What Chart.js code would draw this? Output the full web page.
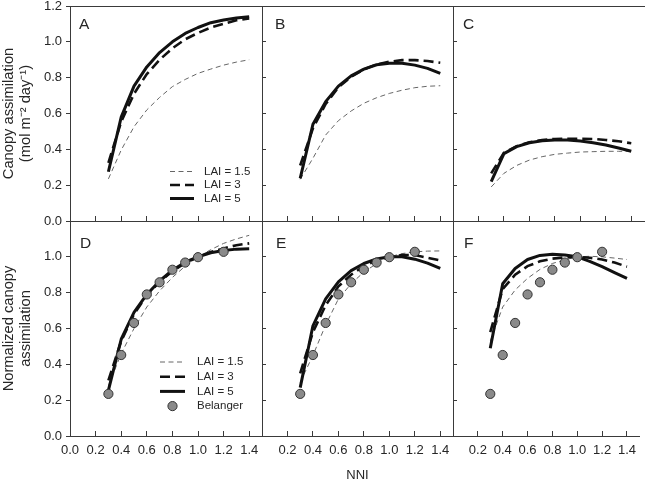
<!DOCTYPE html>
<html>
<head>
<meta charset="utf-8">
<script src="https://cdn.jsdelivr.net/npm/chart.js@4.4.1/dist/chart.umd.min.js"></script>
<style>
  body { margin: 0; background: #fff; }
  #wrap { position: relative; width: 645px; height: 481px; }
  #wrap canvas { position: absolute; left: 0; top: 0; }
</style>
</head>
<body>
<div id="wrap">
  <canvas id="panelA" width="645" height="481"></canvas>
  <canvas id="panelB" width="645" height="481"></canvas>
  <canvas id="panelC" width="645" height="481"></canvas>
  <canvas id="panelD" width="645" height="481"></canvas>
  <canvas id="panelE" width="645" height="481"></canvas>
  <canvas id="panelF" width="645" height="481"></canvas>
</div>
<script>
// NNI values the model curves are given at
const nni = [0.3, 0.4, 0.5, 0.6, 0.7, 0.8, 0.9, 1.0, 1.1, 1.2, 1.3, 1.4];

// Belanger observations (normalized)
const belangerNni = [0.3, 0.4, 0.5, 0.6, 0.7, 0.8, 0.9, 1.0, 1.2];
const belanger = [0.235, 0.452, 0.631, 0.79, 0.858, 0.928, 0.968, 0.998, 1.028];

// A - canopy assimilation
const aLai15 = [0.235, 0.396, 0.526, 0.62, 0.69, 0.75, 0.79, 0.824, 0.848, 0.87, 0.887, 0.90];
const aLai3 = [0.325, 0.554, 0.71, 0.82, 0.90, 0.964, 1.014, 1.05, 1.08, 1.10, 1.12, 1.13];
const aLai5 = [0.275, 0.58, 0.753, 0.86, 0.94, 1.0, 1.047, 1.08, 1.107, 1.122, 1.133, 1.14];
// B
const bLai15 = [0.233, 0.35, 0.48, 0.56, 0.614, 0.657, 0.688, 0.712, 0.73, 0.744, 0.752, 0.755];
const bLai3 = [0.31, 0.517, 0.653, 0.746, 0.805, 0.846, 0.874, 0.889, 0.898, 0.898, 0.893, 0.883];
const bLai5 = [0.238, 0.54, 0.666, 0.753, 0.81, 0.848, 0.872, 0.88, 0.88, 0.87, 0.852, 0.824];
// C
const cLai15 = [0.19, 0.266, 0.31, 0.34, 0.359, 0.372, 0.379, 0.385, 0.387, 0.389, 0.389, 0.389];
const cLai3 = [0.266, 0.381, 0.418, 0.439, 0.452, 0.458, 0.459, 0.459, 0.458, 0.452, 0.445, 0.434];
const cLai5 = [0.22, 0.376, 0.415, 0.437, 0.448, 0.452, 0.452, 0.446, 0.437, 0.424, 0.407, 0.389];
// D - normalized
const dLai15 = [0.28, 0.46, 0.6, 0.72, 0.81, 0.885, 0.948, 1.0, 1.04, 1.075, 1.1, 1.12];
const dLai3 = [0.31, 0.53, 0.68, 0.785, 0.86, 0.92, 0.966, 1.0, 1.027, 1.047, 1.065, 1.075];
const dLai5 = [0.255, 0.54, 0.69, 0.79, 0.865, 0.925, 0.97, 1.0, 1.023, 1.035, 1.043, 1.045];
// E
const eLai15 = [0.3, 0.45, 0.62, 0.765, 0.85, 0.915, 0.962, 1.0, 1.018, 1.028, 1.032, 1.033];
const eLai3 = [0.35, 0.58, 0.73, 0.835, 0.9, 0.948, 0.98, 1.0, 1.01, 1.01, 0.995, 0.98];
const eLai5 = [0.27, 0.615, 0.765, 0.86, 0.923, 0.963, 0.988, 1.0, 1.0, 0.987, 0.965, 0.935];
// F
const fLai15 = [0.53, 0.72, 0.815, 0.88, 0.93, 0.963, 0.983, 1.0, 1.003, 1.0, 0.993, 0.985];
const fLai3 = [0.58, 0.82, 0.9, 0.948, 0.975, 0.99, 0.997, 1.0, 0.995, 0.985, 0.968, 0.945];
const fLai5 = [0.49, 0.85, 0.935, 0.985, 1.008, 1.015, 1.01, 1.0, 0.975, 0.945, 0.912, 0.88];

// tick values
const xTicksAll = [0, 0.2, 0.4, 0.6, 0.8, 1.0, 1.2, 1.4];
const xTicksInner = [0.2, 0.4, 0.6, 0.8, 1.0, 1.2, 1.4];
const yTicksTop = [0, 0.2, 0.4, 0.6, 0.8, 1.0, 1.2];
const yTicksBottom = [0, 0.2, 0.4, 0.6, 0.8, 1.0];

const topTitle = ['Canopy assimilation', '(mol m\u207B\u00B2 day\u207B\u00B9)'];
const bottomTitle = ['Normalized canopy', 'assimilation'];

const textColor = '#262626';
const axisColor = '#3a3a3a';
const fam = '"Liberation Sans", Arial, Helvetica, sans-serif';

function lineSets(l15, l3, l5) {
  return [
    { label: 'LAI = 1.5', data: nni.map((x, i) => ({ x, y: l15[i] })), borderColor: '#666', borderWidth: 1, borderDash: [5, 3.5], pointRadius: 0, order: 3 },
    { label: 'LAI = 3', data: nni.map((x, i) => ({ x, y: l3[i] })), borderColor: '#111', borderWidth: 2.6, borderDash: [10, 5], pointRadius: 0, order: 2 },
    { label: 'LAI = 5', data: nni.map((x, i) => ({ x, y: l5[i] })), borderColor: '#111', borderWidth: 3, borderJoinStyle: 'round', pointRadius: 0, order: 1 }
  ];
}

function belangerSet() {
  return { label: 'Belanger', data: belangerNni.map((x, i) => ({ x, y: belanger[i] })), showLine: false,
    pointRadius: 4.6, pointBackgroundColor: '#8a8a8a', pointBorderColor: '#333', pointBorderWidth: 1, order: 0 };
}

function zeroPad(s) {
  s.paddingLeft = 0; s.paddingRight = 0; s.paddingTop = 0; s.paddingBottom = 0;
}

// panel letter + legend, drawn on top of each panel
function decor(p) {
  return {
    id: 'decor' + p.letter,
    afterDraw(chart) {
      const ctx = chart.ctx, ca = chart.chartArea;
      ctx.save();
      ctx.fillStyle = textColor;
      ctx.font = '15.5px ' + fam;
      ctx.textBaseline = 'alphabetic';
      ctx.fillText(p.letter, ca.left + p.letterDx, ca.top + p.letterDy);
      if (p.legend) {
        const lg = p.legend;
        ctx.font = '11.5px ' + fam;
        ctx.textBaseline = 'middle';
        chart.data.datasets.forEach((ds, i) => {
          const y = lg.y + i * lg.gap;
          if (ds.showLine === false) {
            ctx.beginPath();
            ctx.arc(lg.x + lg.len / 2, y, ds.pointRadius, 0, Math.PI * 2);
            ctx.fillStyle = ds.pointBackgroundColor;
            ctx.fill();
            ctx.lineWidth = ds.pointBorderWidth;
            ctx.strokeStyle = ds.pointBorderColor;
            ctx.stroke();
          } else {
            ctx.beginPath();
            ctx.setLineDash(ds.borderDash || []);
            ctx.lineWidth = ds.borderWidth;
            ctx.strokeStyle = ds.borderColor;
            ctx.moveTo(lg.x, y);
            ctx.lineTo(lg.x + lg.len, y);
            ctx.stroke();
            ctx.setLineDash([]);
          }
          ctx.fillStyle = textColor;
          ctx.fillText(ds.label, lg.textX, y);
        });
      }
      ctx.restore();
    }
  };
}

function makePanel(p) {
  const a = p.area;
  const scales = {
    x: {
      type: 'linear', min: 0, max: 1.5,
      afterBuildTicks: s => { s.ticks = p.xTicks.map(v => ({ value: v })); },
      afterFit: s => { s.height = 481 - a.bottom; zeroPad(s); },
      ticks: { display: p.xLabels, font: { size: 13, family: fam }, color: textColor, padding: 12,
        maxRotation: 0, autoSkip: false, callback: v => v.toFixed(1) },
      grid: { drawOnChartArea: false, tickLength: -5, color: axisColor },
      border: { color: axisColor },
      title: { display: !!p.xTitle, text: p.xTitle || '', color: textColor,
        font: { size: 13, family: fam }, padding: { top: 0, bottom: -2 } }
    },
    y: {
      type: 'linear', min: 0, max: 1.2,
      afterBuildTicks: s => { s.ticks = p.yTicks.map(v => ({ value: v })); },
      afterFit: s => { s.width = a.left; zeroPad(s); },
      ticks: { display: p.yLabels, font: { size: 13, family: fam }, color: textColor, padding: 4,
        callback: v => v.toFixed(1) },
      grid: { drawOnChartArea: false, tickLength: p.yLabels ? 4 : -4, color: axisColor },
      border: { color: axisColor },
      title: { display: !!p.yTitle, text: p.yTitle || '', color: textColor,
        font: { size: 14.7, family: fam, lineHeight: 1.12 }, padding: { top: 1, bottom: 0 } }
    }
  };
  if (p.top) {
    scales.xTop = {
      type: 'linear', position: 'top', min: 0, max: 1.5,
      afterFit: s => { s.height = a.top; zeroPad(s); },
      ticks: { display: false },
      grid: { drawOnChartArea: false, drawTicks: false },
      border: { color: axisColor }
    };
  }
  const datasets = p.sets;
  new Chart(document.getElementById('panel' + p.letter), {
    type: 'line',
    data: { datasets },
    options: {
      responsive: false,
      animation: false,
      devicePixelRatio: 1,
      layout: { padding: { left: 0, top: p.top ? 0 : a.top, right: 645 - a.right, bottom: 0 } },
      plugins: { legend: { display: false }, tooltip: { enabled: false } },
      scales
    },
    plugins: [decor(p)]
  });
}

makePanel({ letter: 'A', area: { left: 70, top: 6, right: 262, bottom: 221 }, top: true,
  xTicks: xTicksAll, xLabels: false, yTicks: yTicksTop, yLabels: true, yTitle: topTitle,
  letterDx: 9, letterDy: 23.3, sets: lineSets(aLai15, aLai3, aLai5),
  legend: { x: 170, len: 24, textX: 204, y: 171.5, gap: 13.5 } });
makePanel({ letter: 'B', area: { left: 262, top: 6, right: 453, bottom: 221 }, top: true,
  xTicks: xTicksAll, xLabels: false, yTicks: yTicksTop, yLabels: false,
  letterDx: 13, letterDy: 23.3, sets: lineSets(bLai15, bLai3, bLai5) });
makePanel({ letter: 'C', area: { left: 453, top: 6, right: 644, bottom: 221 }, top: true,
  xTicks: xTicksAll, xLabels: false, yTicks: yTicksTop, yLabels: false,
  letterDx: 10, letterDy: 23.3, sets: lineSets(cLai15, cLai3, cLai5) });
makePanel({ letter: 'D', area: { left: 70, top: 221, right: 262, bottom: 436 }, top: false,
  xTicks: xTicksAll, xLabels: true, yTicks: yTicksBottom, yLabels: true, yTitle: bottomTitle,
  letterDx: 10, letterDy: 27.3, sets: lineSets(dLai15, dLai3, dLai5).concat([belangerSet()]),
  legend: { x: 160, len: 25, textX: 197, y: 362, gap: 14.7 } });
makePanel({ letter: 'E', area: { left: 262, top: 221, right: 453, bottom: 436 }, top: false,
  xTicks: xTicksInner, xLabels: true, yTicks: yTicksBottom, yLabels: false, xTitle: 'NNI',
  letterDx: 14, letterDy: 27.3, sets: lineSets(eLai15, eLai3, eLai5).concat([belangerSet()]) });
makePanel({ letter: 'F', area: { left: 453, top: 221, right: 644, bottom: 436 }, top: false,
  xTicks: xTicksInner, xLabels: true, yTicks: yTicksBottom, yLabels: false,
  letterDx: 11, letterDy: 27.3, sets: lineSets(fLai15, fLai3, fLai5).concat([belangerSet()]) });
</script>
</body>
</html>
